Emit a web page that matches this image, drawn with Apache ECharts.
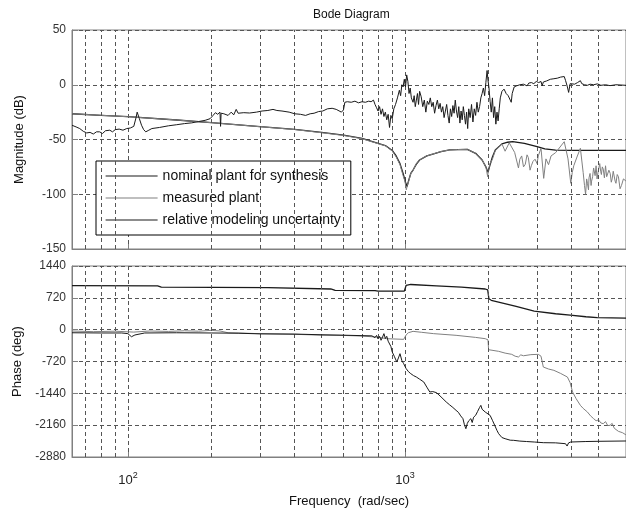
<!DOCTYPE html>
<html>
<head>
<meta charset="utf-8">
<title>Bode Diagram</title>
<script src="https://cdn.jsdelivr.net/npm/echarts@6/dist/echarts.min.js"></script>
<style>
    html, body { margin: 0; padding: 0; background: #fff; }
    #chart { width: 626px; height: 513px; }
</style>
</head>
<body>
<div id="chart"></div>
<script>
// 频率范围 (rad/sec)
const freqMin = 62.83;
const freqMax = 6283;
// 次网格线
const minorGrid = [70, 80, 90, 200, 300, 400, 500, 600, 700, 800, 900, 2000, 3000, 4000, 5000];

// 坐标轴刻度
const magTicks = { min: -150, max: 50, step: 50 };
const phaseTicks = { min: -2880, max: 1440, step: 720 };

const seriesNames = ['nominal plant for synthesis', 'measured plant', 'relative modeling uncertainty'];

// 幅值 (dB)
const nominalMag = [
    [62.83, -26.5], [80, -27.9], [100, -29.2], [150, -32.2], [200, -34.6], [300, -38.3],
    [400, -40.7], [500, -43.5], [600, -46], [700, -49], [800, -53.6], [850, -55.5],
    [900, -60], [930, -65], [960, -72], [985, -81], [1005, -89], [1018, -93],
    [1030, -88], [1050, -81], [1070, -77.9], [1100, -72.5], [1130, -68.7], [1200, -65],
    [1270, -63.2], [1350, -61], [1450, -59.5], [1550, -59.2], [1680, -59], [1800, -62.6],
    [1900, -68.7], [1960, -75], [1995, -80], [2030, -73], [2070, -66], [2120, -59.5],
    [2240, -54], [2350, -52.5], [2450, -52], [2700, -53.5], [3000, -56.5], [3200, -58.5],
    [3500, -59.7], [4000, -60], [5000, -60], [6283, -60]
];

const measuredMag = [
    [62.83, -26.5], [80, -27.9], [100, -29.2], [150, -32.2], [200, -34.6], [300, -38.3],
    [400, -40.9], [500, -43.8], [600, -46.3], [700, -49.3], [800, -53.8], [850, -55.7],
    [900, -60.5], [930, -66], [960, -73], [985, -83], [1000, -88], [1012, -96],
    [1020, -92], [1030, -89], [1050, -81], [1070, -78], [1100, -72], [1130, -68.5],
    [1200, -65], [1270, -63], [1350, -61], [1450, -59.5], [1550, -59.2], [1680, -59],
    [1800, -62.6], [1900, -68.7], [1960, -75], [1990, -84], [2000, -78], [2030, -72],
    [2070, -68], [2120, -60], [2180, -56.8], [2240, -54], [2300, -60.7], [2380, -53],
    [2490, -61.8], [2570, -76], [2600, -68], [2640, -65], [2680, -75], [2720, -72.6],
    [2760, -64], [2790, -66.5], [2830, -78], [2860, -74], [2900, -70], [2950, -68],
    [3000, -72], [3030, -65], [3100, -58], [3170, -85.5], [3230, -67.7], [3300, -73],
    [3370, -65], [3500, -62], [3760, -52], [3880, -67.7], [3970, -90], [4020, -80],
    [4070, -74], [4180, -66], [4300, -58], [4400, -80], [4450, -92], [4490, -100],
    [4530, -86], [4560, -90], [4600, -96], [4620, -85], [4660, -81], [4700, -92],
    [4720, -88], [4760, -84], [4800, -76], [4860, -83], [4900, -74], [4940, -86],
    [4980, -80], [5050, -72], [5090, -79], [5120, -82], [5160, -75], [5200, -77],
    [5250, -85], [5300, -74], [5350, -84], [5400, -83], [5450, -78], [5510, -81],
    [5560, -89], [5600, -86], [5650, -79], [5700, -80], [5740, -88], [5780, -90],
    [5840, -82], [5900, -84], [5980, -95], [6050, -92], [6150, -86], [6283, -88]
];

const uncertaintyMag = [
    [62.83, -37], [65, -38.5], [67, -40], [69, -42.5], [71, -44], [73, -43.5],
    [75, -45], [77, -43], [79, -43], [81, -44.5], [83, -42], [86, -41.5],
    [88, -43], [90, -41], [93, -40.5], [96, -41.5], [99, -40], [102, -39.5],
    [105, -38], [107, -30], [108, -25], [110, -31], [112, -37], [114, -41],
    [116, -43], [119, -41.5], [122, -40], [130, -39], [140, -37.5], [150, -36.5],
    [160, -35.5], [170, -34.8], [180, -33.6], [190, -32.5], [198, -31], [203, -28],
    [207, -25.5], [211, -27], [215, -25], [216, -38], [217, -26], [222, -26.5],
    [230, -28], [236, -25], [241, -27.5], [246, -22.5], [250, -26], [262, -25.5],
    [275, -25.8], [291, -25], [305, -24], [320, -23.5], [334, -22.5], [345, -23.5],
    [360, -24], [382, -25], [400, -26.5], [420, -27], [438, -28], [455, -26.5],
    [470, -26], [488, -24.5], [505, -24], [525, -22], [546, -21.5], [565, -22.5],
    [590, -25], [600, -23], [607, -16], [620, -15.5], [640, -16], [660, -15],
    [680, -16.5], [700, -15.5], [720, -16], [740, -15], [755, -15.5], [770, -14],
    [780, -18], [790, -21], [800, -24], [810, -20], [820, -27], [830, -22],
    [840, -29], [850, -25], [860, -32], [870, -27], [880, -39], [890, -28],
    [900, -31], [912, -22], [925, -18], [940, -12], [955, -5], [965, -10],
    [975, 0], [985, -2], [995, 5], [1005, -2], [1015, 9], [1025, 3],
    [1035, -8], [1045, -3], [1055, -12], [1070, -16], [1080, -10], [1090, -20],
    [1100, -14], [1110, -8], [1120, -18], [1130, -6], [1145, -11], [1160, -20],
    [1175, -14], [1190, -25], [1205, -15], [1220, -18], [1235, -12], [1250, -20],
    [1265, -16], [1280, -26], [1295, -19], [1310, -14], [1325, -22], [1340, -17],
    [1355, -25], [1370, -20], [1385, -30], [1400, -24], [1415, -18], [1430, -28],
    [1445, -35], [1460, -22], [1475, -29], [1490, -19], [1505, -26], [1520, -14],
    [1535, -24], [1550, -30], [1565, -20], [1580, -35], [1595, -24], [1610, -32],
    [1625, -20], [1640, -28], [1655, -36], [1670, -25], [1685, -40], [1700, -22],
    [1720, -30], [1740, -18], [1760, -34], [1780, -22], [1800, -28], [1820, -16],
    [1840, -25], [1860, -20], [1880, -12], [1900, -8], [1920, -3], [1940, -10],
    [1960, 2], [1980, 13], [1995, 4], [2010, -2], [2030, -15], [2050, -25],
    [2070, -12], [2090, -30], [2110, -20], [2130, -36], [2150, -25], [2170, -33],
    [2190, -22], [2210, -12], [2240, -6], [2280, -4], [2320, -8], [2360, -10],
    [2400, -14], [2420, -16], [2440, -8], [2480, -2], [2530, -1], [2600, 0],
    [2680, 0.5], [2720, 1], [2760, -1], [2800, 1.5], [2860, 2], [2920, 1],
    [2980, 3], [3040, 2], [3100, 3], [3130, -1], [3160, 2.5], [3250, 3.5],
    [3350, 5], [3450, 5.5], [3550, 6], [3650, 7], [3760, 7.5], [3800, 4],
    [3860, -2], [3900, -7], [3950, 1], [4000, 0], [4100, 0.5], [4200, 2],
    [4300, 3.7], [4350, 1], [4450, 0], [4560, -0.5], [4660, 0.5], [4800, 0],
    [4950, 0.8], [5100, -0.5], [5300, 0], [5500, -0.8], [5780, 0], [6283, -0.5]
];

// 相位 (deg)
const nominalPhase = [
    [62.83, 994], [128, 990], [132, 962], [320, 950], [325, 925], [540, 920],
    [560, 888], [780, 884], [800, 872], [995, 872], [1010, 1000], [1050, 1022],
    [1300, 992], [1600, 960], [1950, 920], [1990, 900], [2010, 700], [2050, 665],
    [2500, 530], [2930, 420], [3500, 360], [3950, 330], [4500, 292], [4950, 272],
    [6283, 262]
];

const measuredPhase = [
    [62.83, -30], [75, -45], [90, -35], [105, -55], [120, -30], [140, -40],
    [160, -25], [180, -35], [200, -15], [215, -30], [230, -70], [300, -90],
    [400, -105], [500, -125], [600, -130], [700, -145], [800, -170], [860, -204],
    [990, -219], [1010, -120], [1030, -68], [1070, -38], [1150, -60], [1270, -90],
    [1530, -128], [1800, -175], [1950, -204], [1995, -230], [2005, -453], [2180, -490],
    [2300, -530], [2430, -558], [2500, -600], [2570, -618], [2620, -570], [2680, -590],
    [2720, -558], [2850, -565], [3030, -558], [3100, -600], [3160, -845], [3300, -890],
    [3450, -920], [3650, -990], [3860, -1071], [3950, -1200], [4030, -1410], [4150, -1560],
    [4300, -1712], [4400, -1780], [4450, -1760], [4560, -1863], [4680, -1950], [4800, -2013],
    [4900, -2060], [5000, -2040], [5100, -2110], [5200, -2126], [5300, -2080], [5400, -2170],
    [5500, -2164], [5600, -2120], [5700, -2230], [5780, -2240], [5900, -2300], [6100, -2330],
    [6283, -2380]
];

const uncertaintyPhase = [
    [62.83, -70], [80, -75], [95, -75], [100, -90], [103, -160], [106, -120],
    [115, -75], [150, -70], [200, -75], [250, -80], [300, -95], [400, -100],
    [500, -115], [600, -125], [700, -135], [760, -140], [780, -180], [790, -130],
    [800, -210], [810, -150], [820, -240], [830, -170], [840, -90], [850, -200],
    [860, -150], [870, -260], [880, -241], [890, -380], [900, -505], [915, -600],
    [935, -732], [950, -620], [960, -543], [975, -700], [990, -770], [1010, -880],
    [1030, -950], [1050, -995], [1075, -1040], [1100, -1071], [1130, -1120], [1170, -1184],
    [1200, -1300], [1230, -1410], [1260, -1400], [1300, -1425], [1350, -1520], [1410, -1636],
    [1450, -1700], [1490, -1760], [1530, -1825], [1560, -1870], [1590, -1950], [1620, -2013],
    [1640, -2150], [1660, -2240], [1680, -2120], [1700, -2060], [1730, -2013], [1750, -2100],
    [1770, -1980], [1800, -1938], [1830, -1850], [1860, -1760], [1880, -1712], [1900, -1800],
    [1920, -1760], [1950, -1863], [1980, -1820], [2030, -1938], [2070, -2050], [2110, -2164],
    [2150, -2280], [2180, -2353], [2240, -2440], [2300, -2466], [2400, -2500], [2470, -2503],
    [2600, -2520], [2750, -2530], [2930, -2541], [3160, -2556], [3500, -2560], [3800, -2579],
    [3850, -2632], [3900, -2560], [3970, -2541], [4500, -2530], [5000, -2525], [6283, -2518]
];

const fontFamily = '"Liberation Sans", Arial, sans-serif';
const frameColor = '#808080';
const gridColor = '#555';
const darkLine = '#1a1a1a';
const grayLine = '#808080';

function makeXAxis(gridIndex, showLabel) {
    return {
        type: 'log',
        logBase: 10,
        gridIndex: gridIndex,
        min: freqMin,
        max: freqMax,
        name: showLabel ? 'Frequency  (rad/sec)' : '',
        nameLocation: 'middle',
        nameGap: 38,
        nameTextStyle: { fontSize: 13, color: '#111', fontFamily: fontFamily },
        axisLine: { show: true, onZero: false, lineStyle: { color: frameColor } },
        axisTick: { show: true, inside: true, length: 5, lineStyle: { color: frameColor } },
        axisLabel: {
            show: showLabel,
            margin: 14,
            showMinLabel: false,
            showMaxLabel: false,
            formatter: v => {
                const e = Math.log10(v);
                if (Math.abs(e - Math.round(e)) > 1e-6) return '';
                return '{b|10}{s|' + Math.round(e) + '}';
            },
            rich: {
                b: { fontSize: 13, color: '#222', fontFamily: fontFamily },
                s: { fontSize: 9, color: '#222', fontFamily: fontFamily, padding: [0, 0, 10, 0] }
            }
        },
        splitLine: { show: true, lineStyle: { color: gridColor, type: [4, 3], width: 1 } }
    };
}

function makeYAxis(gridIndex, name, ticks, gap) {
    return {
        type: 'value',
        gridIndex: gridIndex,
        min: ticks.min,
        max: ticks.max,
        interval: ticks.step,
        name: name,
        nameLocation: 'middle',
        nameGap: gap,
        nameTextStyle: { fontSize: 13, color: '#111', fontFamily: fontFamily },
        axisLine: { show: true, onZero: false, lineStyle: { color: frameColor } },
        axisTick: { show: true, inside: true, length: 6, lineStyle: { color: frameColor } },
        axisLabel: { fontSize: 12, color: '#333', margin: 6, fontFamily: fontFamily, formatter: v => String(v) },
        splitLine: { show: true, lineStyle: { color: gridColor, type: [4, 3], width: 1 } }
    };
}

function lineSeries(name, data, axisIndex, color, width, z) {
    return {
        name: name,
        type: 'line',
        xAxisIndex: axisIndex,
        yAxisIndex: axisIndex,
        data: data,
        symbol: 'none',
        showSymbol: false,
        z: z,
        lineStyle: { color: color, width: width },
        itemStyle: { color: color }
    };
}

// 次网格线用 markLine 画
function minorGridSeries(axisIndex) {
    return {
        type: 'line',
        xAxisIndex: axisIndex,
        yAxisIndex: axisIndex,
        data: [],
        silent: true,
        z: 1,
        markLine: {
            silent: true,
            symbol: ['none', 'none'],
            label: { show: false },
            animation: false,
            lineStyle: { color: gridColor, type: [4, 3], width: 1 },
            data: minorGrid.map(f => ({ xAxis: f }))
        }
    };
}

const chart = echarts.init(document.getElementById('chart'));
chart.setOption({
    animation: false,
    backgroundColor: '#fff',
    title: {
        text: 'Bode Diagram',
        left: 308,
        top: 4,
        textStyle: { fontSize: 12, fontWeight: 'normal', color: '#111', fontFamily: fontFamily }
    },
    legend: {
        data: seriesNames,
        orient: 'vertical',
        left: 96,
        top: 161,
        itemWidth: 52,
        itemHeight: 12,
        itemGap: 8,
        padding: [8, 10, 8, 9],
        backgroundColor: '#fff',
        borderColor: '#000',
        borderWidth: 1,
        borderRadius: 0,
        itemStyle: { color: 'transparent', borderColor: 'transparent', borderWidth: 0 },
        lineStyle: { width: 1.2 },
        textStyle: { fontSize: 14, color: '#111', fontFamily: fontFamily }
    },
    grid: [
        { left: 72, top: 30, width: 564, height: 219, show: true, borderColor: frameColor, borderWidth: 1 },
        { left: 72, top: 266, width: 564, height: 191, show: true, borderColor: frameColor, borderWidth: 1 }
    ],
    xAxis: [makeXAxis(0, false), makeXAxis(1, true)],
    yAxis: [
        makeYAxis(0, 'Magnitude (dB)', magTicks, 46),
        makeYAxis(1, 'Phase (deg)', phaseTicks, 46)
    ],
    series: [
        minorGridSeries(0),
        minorGridSeries(1),
        lineSeries(seriesNames[0], nominalMag, 0, darkLine, 1.3, 3),
        lineSeries(seriesNames[1], measuredMag, 0, grayLine, 1, 4),
        lineSeries(seriesNames[2], uncertaintyMag, 0, darkLine, 1, 5),
        lineSeries(seriesNames[0], nominalPhase, 1, darkLine, 1.3, 3),
        lineSeries(seriesNames[1], measuredPhase, 1, grayLine, 1, 4),
        lineSeries(seriesNames[2], uncertaintyPhase, 1, darkLine, 1, 5)
    ]
});
</script>
</body>
</html>
